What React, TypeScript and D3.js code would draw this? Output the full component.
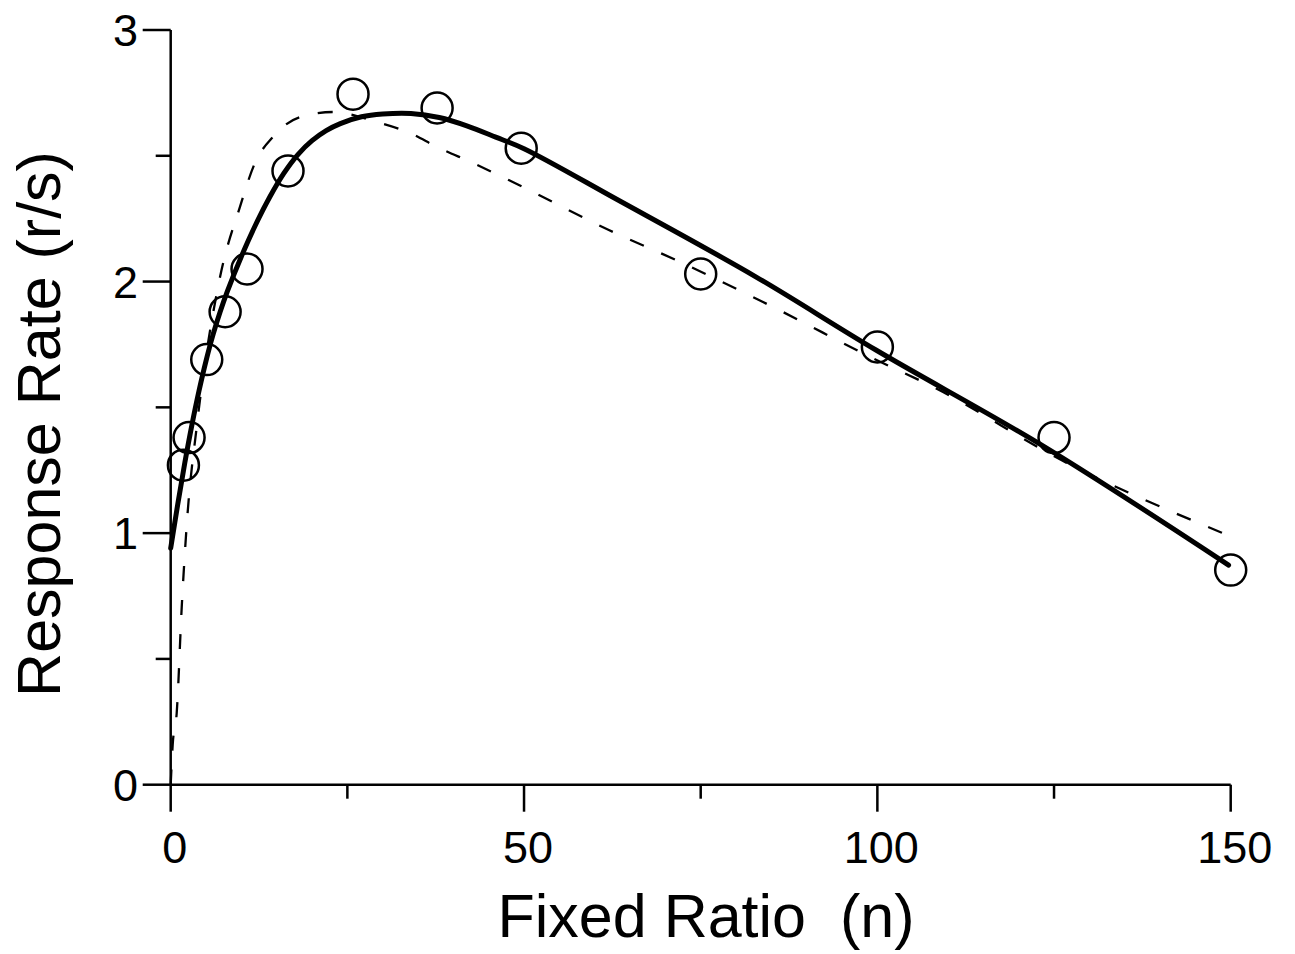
import React from "react";
import * as d3 from "d3";

// Observed data (fixed ratio n, response rate r/s)
const obsN = [1.8, 2.6, 5.1, 7.7, 10.8, 16.6, 25.8, 37.7, 49.6, 75, 100, 125, 150];
const obsRate = [1.27, 1.38, 1.69, 1.88, 2.05, 2.44, 2.745, 2.69, 2.53, 2.03, 1.74, 1.38, 0.853];

// Solid model curve
const solidN = [0, 1, 2, 3, 4, 5, 6, 7, 8, 10, 12, 14, 16, 18, 20, 22, 24, 27, 30, 34, 38, 42, 46, 50, 63.3, 82.8, 99.8, 123.6, 149.7];
const solidRate = [0.94, 1.115, 1.28, 1.43, 1.565, 1.685, 1.79, 1.88, 1.96, 2.1, 2.225, 2.335, 2.43, 2.505, 2.56, 2.6, 2.628, 2.655, 2.666, 2.668, 2.652, 2.618, 2.574, 2.528, 2.324, 2.019, 1.728, 1.344, 0.873];

// Dashed model curve
const dashN = [0, 0.28, 0.85, 1.56, 2.35, 3.68, 6.98, 9.8, 11.93, 14.48, 18.3, 23.0, 29.2, 33.9, 37.7, 42.8, 48.4, 62.0, 72.1, 86, 99.8, 107.9, 126.8, 148.8];
const dashRate = [0, 0.158, 0.285, 0.706, 1.064, 1.422, 2.018, 2.297, 2.472, 2.575, 2.654, 2.674, 2.634, 2.59, 2.535, 2.471, 2.396, 2.205, 2.078, 1.888, 1.689, 1.581, 1.279, 1.001];

const xMajor = [0, 50, 100, 150];
const xMinor = [25, 75, 125];
const yMajor = [0, 1, 2, 3];
const yMinor = [0.5, 1.5, 2.5];

const xTitle = "Fixed Ratio  (n)";
const yTitle = "Response Rate (r/s)";

const FONT = "'Liberation Sans', Arial, Helvetica, sans-serif";

export default function App() {
  const W = 1295;
  const H = 954;
  const x = d3.scaleLinear().domain([0, 150]).range([170.7, 1230.7]);
  const y = d3.scaleLinear().domain([0, 3]).range([784.7, 30]);

  const solidLine = d3
    .line<[number, number]>()
    .x((d) => x(d[0]))
    .y((d) => y(d[1]))
    .curve(d3.curveCatmullRom.alpha(0.5));

  const dashLine = d3
    .line<[number, number]>()
    .x((d) => x(d[0]))
    .y((d) => y(d[1]))
    .curve(d3.curveMonotoneX);

  const solidPts: [number, number][] = solidN.map((n, i) => [n, solidRate[i]]);
  const dashPts: [number, number][] = dashN.map((n, i) => [n, dashRate[i]]);

  const x0 = x(0);
  const y0 = y(0);

  return (
    <svg
      width={W}
      height={H}
      style={{ position: "absolute", left: 0, top: 0, background: "#fff" }}
      fontFamily={FONT}
    >
      <rect x={0} y={0} width={W} height={H} fill="#fff" />
      {/* axes */}
      <line x1={x0} x2={x0} y1={y(3)} y2={y0} stroke="#000" strokeWidth={2.5} />
      <line x1={x0} x2={x(150)} y1={y0} y2={y0} stroke="#000" strokeWidth={2.5} />
      {yMajor.map((v) => (
        <g key={"ym" + v}>
          <line x1={x0 - 28} x2={x0} y1={y(v)} y2={y(v)} stroke="#000" strokeWidth={2.5} />
          <text x={138} y={y(v) + 16} textAnchor="end" fontSize={45} fill="#000">
            {v}
          </text>
        </g>
      ))}
      {yMinor.map((v) => (
        <line key={"yn" + v} x1={x0 - 15} x2={x0} y1={y(v)} y2={y(v)} stroke="#000" strokeWidth={2.5} />
      ))}
      {xMajor.map((v) => (
        <g key={"xm" + v}>
          <line x1={x(v)} x2={x(v)} y1={y0} y2={y0 + 27} stroke="#000" strokeWidth={2.5} />
          <text x={x(v) + 4} y={863} textAnchor="middle" fontSize={45} fill="#000">
            {v}
          </text>
        </g>
      ))}
      {xMinor.map((v) => (
        <line key={"xn" + v} x1={x(v)} x2={x(v)} y1={y0} y2={y0 + 14} stroke="#000" strokeWidth={2.5} />
      ))}

      {/* dashed model */}
      <path
        d={dashLine(dashPts) || ""}
        fill="none"
        stroke="#000"
        strokeWidth={2.3}
        strokeDasharray="15,19"
      />
      {/* solid model */}
      <path d={solidLine(solidPts) || ""} fill="none" stroke="#000" strokeWidth={5} strokeLinejoin="round" strokeLinecap="round" />

      {/* observed */}
      {obsN.map((n, i) => (
        <circle key={"c" + i} cx={x(n)} cy={y(obsRate[i])} r={15.5} fill="none" stroke="#000" strokeWidth={2.5} />
      ))}

      {/* titles */}
      <text x={706} y={937} textAnchor="middle" fontSize={61} fill="#000" style={{ whiteSpace: "pre" }}>
        {xTitle}
      </text>
      <text
        transform={`translate(60, 424) rotate(-90)`}
        textAnchor="middle"
        fontSize={61}
        fill="#000"
      >
        {yTitle}
      </text>
    </svg>
  );
}
